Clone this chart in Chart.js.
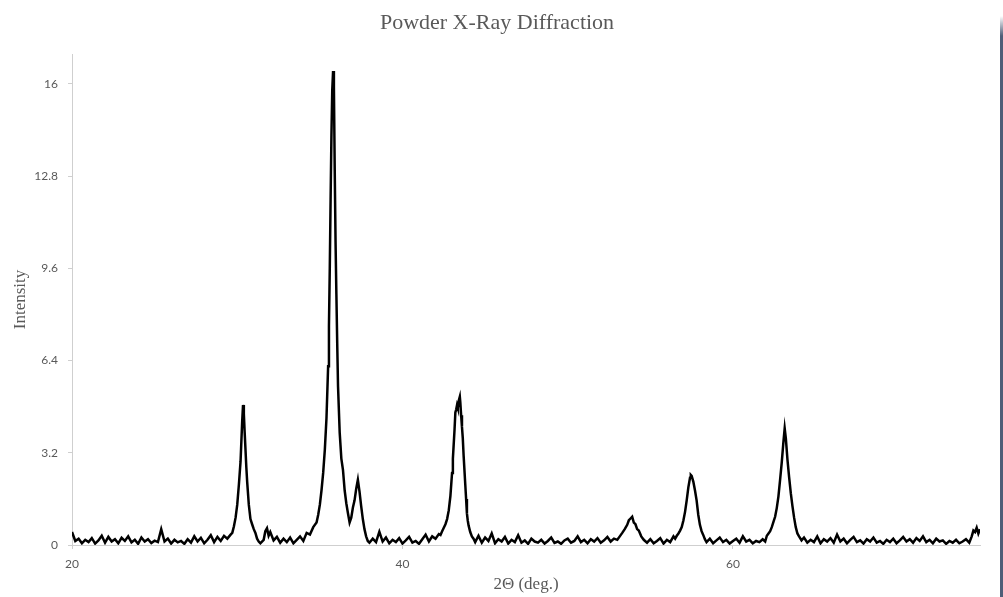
<!DOCTYPE html>
<html>
<head>
<meta charset="utf-8">
<title>Powder X-Ray Diffraction</title>
<script src="https://cdn.jsdelivr.net/npm/chart.js@4.4.1/dist/chart.umd.min.js"></script>
<style>
  html, body { margin: 0; padding: 0; background: #fff; }
  #wrap { position: relative; width: 1003px; height: 597px; }
  #edge {
    position: absolute; left: 1000px; top: 16px; width: 3px; height: 581px;
    background: linear-gradient(to bottom, rgba(78,94,120,0) 0px, #4e5e78 20px, #4e5e78 100%);
  }
</style>
</head>
<body>
<div id="wrap">
  <canvas id="xrdChart" width="1003" height="597"></canvas>
  <div id="edge"></div>
</div>
<script>
// 2theta (deg) and intensity
var twoTheta = [
  20.0, 20.2, 20.4, 20.6, 20.8, 21.0, 21.2, 21.4, 21.6, 21.8,
  22.0, 22.2, 22.4, 22.6, 22.8, 23.0, 23.2, 23.4, 23.6, 23.8,
  24.0, 24.2, 24.4, 24.6, 24.8, 25.0, 25.2, 25.4, 25.6, 25.8,
  26.0, 26.2, 26.4, 26.6, 26.8, 27.0, 27.2, 27.4, 27.6, 27.8,
  28.0, 28.2, 28.4, 28.6, 28.8, 29.0, 29.2, 29.4, 29.6,
  29.7, 29.8, 29.9, 30.0, 30.1, 30.2, 30.25, 30.3, 30.35, 30.4,
  30.45, 30.5, 30.55, 30.6, 30.7, 30.8, 30.9, 31.0, 31.1, 31.2,
  31.3, 31.4, 31.6, 31.7, 31.8, 31.9, 32.0, 32.2, 32.4, 32.6,
  32.8, 33.0, 33.2, 33.4, 33.6, 33.8, 34.0, 34.2, 34.4, 34.6,
  34.8, 34.9, 35.0, 35.1, 35.2, 35.3, 35.4, 35.5, 35.55, 35.6,
  35.65, 35.7, 35.75, 35.8, 35.85, 35.9, 35.95, 36.0, 36.05, 36.1,
  36.2, 36.3, 36.4, 36.5, 36.6, 36.7, 36.8, 36.9, 37.0, 37.1,
  37.2, 37.3, 37.4, 37.5, 37.6, 37.7, 37.8, 37.9, 38.0,
  38.2, 38.4, 38.6, 38.8, 39.0, 39.2, 39.4, 39.6, 39.8, 40.0,
  40.2, 40.4, 40.6, 40.8, 41.0, 41.2, 41.4, 41.6, 41.8, 42.0, 42.2,
  42.3, 42.4, 42.5, 42.6, 42.7, 42.8, 42.9, 43.0, 43.05, 43.1,
  43.15, 43.2, 43.25, 43.3, 43.35, 43.4, 43.47, 43.5, 43.55, 43.6,
  43.65, 43.7, 43.75, 43.8, 43.85, 43.9, 43.95, 44.0, 44.1, 44.2, 44.3,
  44.4, 44.6, 44.8, 45.0, 45.2, 45.4, 45.6, 45.8, 46.0, 46.2,
  46.4, 46.6, 46.8, 47.0, 47.2, 47.4, 47.6, 47.8, 48.0, 48.2,
  48.4, 48.6, 48.8, 49.0, 49.2, 49.4, 49.6, 49.8, 50.0, 50.2,
  50.4, 50.6, 50.8, 51.0, 51.2, 51.4, 51.6, 51.8, 52.0, 52.2,
  52.4, 52.6, 52.8, 53.0,
  53.15, 53.3, 53.45, 53.6, 53.7, 53.8, 53.9, 54.0, 54.1, 54.2,
  54.3, 54.45, 54.6,
  54.8, 55.0, 55.2, 55.4, 55.6, 55.8, 56.0, 56.2, 56.4,
  56.5, 56.6, 56.7, 56.8, 56.9, 57.0, 57.1, 57.2, 57.3, 57.4,
  57.45, 57.5, 57.6, 57.7, 57.8, 57.9, 58.0, 58.1, 58.2, 58.3, 58.4,
  58.6, 58.8, 59.0, 59.2, 59.4, 59.6, 59.8, 60.0, 60.2, 60.4,
  60.6, 60.8, 61.0, 61.2, 61.4, 61.6, 61.8,
  61.95, 62.05, 62.15, 62.25, 62.35, 62.45, 62.55, 62.65, 62.75, 62.85,
  62.95, 63.05, 63.13, 63.2, 63.3, 63.4, 63.5, 63.6, 63.7, 63.8,
  63.9, 64.0, 64.15,
  64.3, 64.5, 64.7, 64.9, 65.1, 65.3, 65.5, 65.7, 65.9, 66.1,
  66.3, 66.5, 66.7, 66.9, 67.1, 67.3, 67.5, 67.7, 67.9, 68.1,
  68.3, 68.5, 68.7, 68.9, 69.1, 69.3, 69.5, 69.7, 69.9, 70.1,
  70.3, 70.5, 70.7, 70.9, 71.1, 71.3, 71.5, 71.7, 71.9, 72.1,
  72.3, 72.5, 72.7, 72.9, 73.1, 73.3, 73.5, 73.7, 73.9, 74.1,
  74.3, 74.45, 74.55, 74.65, 74.75, 74.85, 74.95
];

var intensity = [
  0.45, 0.14, 0.22, 0.06, 0.18, 0.10, 0.24, 0.05, 0.16, 0.32,
  0.08, 0.28, 0.12, 0.20, 0.06, 0.25, 0.14, 0.30, 0.09, 0.18,
  0.04, 0.26, 0.12, 0.20, 0.07, 0.15, 0.10, 0.55, 0.12, 0.22,
  0.05, 0.18, 0.09, 0.14, 0.04, 0.20, 0.08, 0.30, 0.12, 0.25,
  0.06, 0.18, 0.34, 0.10, 0.28, 0.14, 0.32, 0.22, 0.36,
  0.42, 0.65, 0.95, 1.4, 2.1, 2.9, 3.6, 4.3, 4.86, 4.55,
  3.9, 3.3, 2.7, 2.2, 1.4, 0.9, 0.72, 0.55, 0.42, 0.22,
  0.12, 0.06, 0.18, 0.48, 0.58, 0.32, 0.45, 0.16, 0.28, 0.08,
  0.22, 0.10, 0.26, 0.06, 0.18, 0.30, 0.14, 0.42, 0.36, 0.62,
  0.78, 1.05, 1.4, 1.9, 2.5, 3.3, 4.4, 6.2, 7.6, 9.6,
  12.0, 14.2, 15.8, 16.45, 15.9, 13.0, 10.5, 8.7, 7.0, 5.5,
  3.9, 3.0, 2.6, 1.9, 1.45, 1.1, 0.78, 0.95, 1.3, 1.55,
  1.95, 2.26, 1.85, 1.35, 0.9, 0.55, 0.3, 0.14, 0.08,
  0.22, 0.10, 0.46, 0.12, 0.26, 0.06, 0.18, 0.10, 0.24, 0.05,
  0.16, 0.28, 0.08, 0.14, 0.04, 0.20, 0.36, 0.12, 0.30, 0.22, 0.38,
  0.35, 0.48, 0.6, 0.72, 0.9, 1.2, 1.7, 2.5, 3.0, 3.5,
  4.0, 4.6, 4.7, 4.85, 4.75, 5.0, 5.15, 4.95, 4.5, 4.1,
  3.7, 3.1, 2.6, 2.1, 1.6, 1.1, 0.85, 0.68, 0.45, 0.3, 0.22,
  0.10, 0.32, 0.08, 0.26, 0.14, 0.40, 0.06, 0.20, 0.12, 0.28,
  0.05, 0.18, 0.10, 0.34, 0.08, 0.16, 0.04, 0.22, 0.12, 0.08,
  0.18, 0.05, 0.14, 0.26, 0.07, 0.12, 0.04, 0.16, 0.22, 0.08,
  0.14, 0.30, 0.10, 0.18, 0.06, 0.20, 0.12, 0.24, 0.08, 0.16,
  0.28, 0.12, 0.22, 0.18,
  0.3, 0.42, 0.55, 0.7, 0.86, 0.92, 0.98, 0.78, 0.72, 0.55,
  0.5, 0.3, 0.18,
  0.08, 0.20, 0.06, 0.14, 0.24, 0.05, 0.18, 0.10, 0.30,
  0.22, 0.32, 0.4, 0.5, 0.62, 0.85, 1.15, 1.55, 2.0, 2.33,
  2.43, 2.4, 2.2, 1.9, 1.55, 1.05, 0.7, 0.48, 0.35, 0.2, 0.1,
  0.22, 0.06, 0.16, 0.26, 0.10, 0.18, 0.05, 0.14, 0.22, 0.08,
  0.30, 0.12, 0.18, 0.06, 0.14, 0.10, 0.20,
  0.12, 0.32, 0.4, 0.48, 0.62, 0.8, 0.98, 1.28, 1.68, 2.25,
  2.85, 3.55, 4.05, 3.7, 2.95, 2.35, 1.8, 1.35, 0.95, 0.62,
  0.4, 0.3, 0.16,
  0.26, 0.08, 0.18, 0.10, 0.30, 0.06, 0.20, 0.12, 0.24, 0.08,
  0.36, 0.12, 0.22, 0.06, 0.18, 0.28, 0.10, 0.16, 0.05, 0.20,
  0.12, 0.26, 0.08, 0.14, 0.04, 0.18, 0.10, 0.22, 0.06, 0.16,
  0.28, 0.12, 0.20, 0.08, 0.24, 0.14, 0.30, 0.10, 0.18, 0.06,
  0.22, 0.12, 0.16, 0.04, 0.14, 0.08, 0.18, 0.06, 0.12, 0.20,
  0.08, 0.3, 0.5, 0.45, 0.6, 0.4, 0.55
];

var xTicks = [20, 40, 60];
var yTicks = [0, 3.2, 6.4, 9.6, 12.8, 16];

var textGray = "#595959";
var axisGray = "#cfcfcf";

var points = twoTheta.map(function (t, i) {
  return { x: t, y: intensity[i] };
});

var ctx = document.getElementById("xrdChart").getContext("2d");
new Chart(ctx, {
  type: "line",
  data: {
    datasets: [
      {
        label: "Intensity",
        data: points,
        borderColor: "#000000",
        borderWidth: 2.5,
        pointRadius: 0,
        tension: 0,
        fill: false,
      },
    ],
  },
  options: {
    responsive: false,
    animation: false,
    layout: { padding: { left: 0, right: 9, top: 0, bottom: 0 } },
    plugins: {
      legend: { display: false },
      tooltip: { enabled: false },
      title: {
        display: true,
        text: "Powder X-Ray Diffraction",
        color: textGray,
        font: { family: "'Liberation Serif', 'Times New Roman', serif", size: 22, weight: "normal" },
        padding: { top: 10, bottom: 17.6 },
      },
    },
    scales: {
      x: {
        type: "linear",
        min: 20,
        max: 74.95,
        afterBuildTicks: function (scale) {
          scale.ticks = xTicks.map(function (v) { return { value: v }; });
        },
        afterFit: function (scale) { scale.height = 52; },
        grid: { drawOnChartArea: false, drawTicks: true, tickLength: 4, color: axisGray },
        border: { display: true, color: axisGray, width: 1 },
        ticks: {
          color: textGray,
          padding: 8,
          maxRotation: 0,
          font: { family: "Lato, 'Liberation Sans', sans-serif", size: 12 },
        },
        title: {
          display: true,
          text: "2\u0398 (deg.)",
          color: textGray,
          font: { family: "'Liberation Serif', 'Times New Roman', serif", size: 17 },
          padding: { top: 0, bottom: 2 },
        },
      },
      y: {
        type: "linear",
        min: 0,
        max: 17.04,
        afterBuildTicks: function (scale) {
          scale.ticks = yTicks.map(function (v) { return { value: v }; });
        },
        afterFit: function (scale) { scale.width = 72; },
        grid: { drawOnChartArea: false, drawTicks: true, tickLength: 4, color: axisGray },
        border: { display: true, color: axisGray, width: 1 },
        ticks: {
          color: textGray,
          padding: 10,
          font: { family: "Lato, 'Liberation Sans', sans-serif", size: 12 },
          callback: function (v) { return String(v); },
        },
        title: {
          display: true,
          text: "Intensity",
          color: textGray,
          font: { family: "'Liberation Serif', 'Times New Roman', serif", size: 17 },
          padding: { top: 10, bottom: 0 },
        },
      },
      // empty spacer on the right so the plot ends where the original does
      spacer: {
        type: "linear",
        position: "right",
        display: true,
        grid: { display: false },
        border: { display: false },
        ticks: { display: false },
        afterFit: function (scale) { scale.width = 14; },
      },
    },
  },
});
</script>
</body>
</html>
